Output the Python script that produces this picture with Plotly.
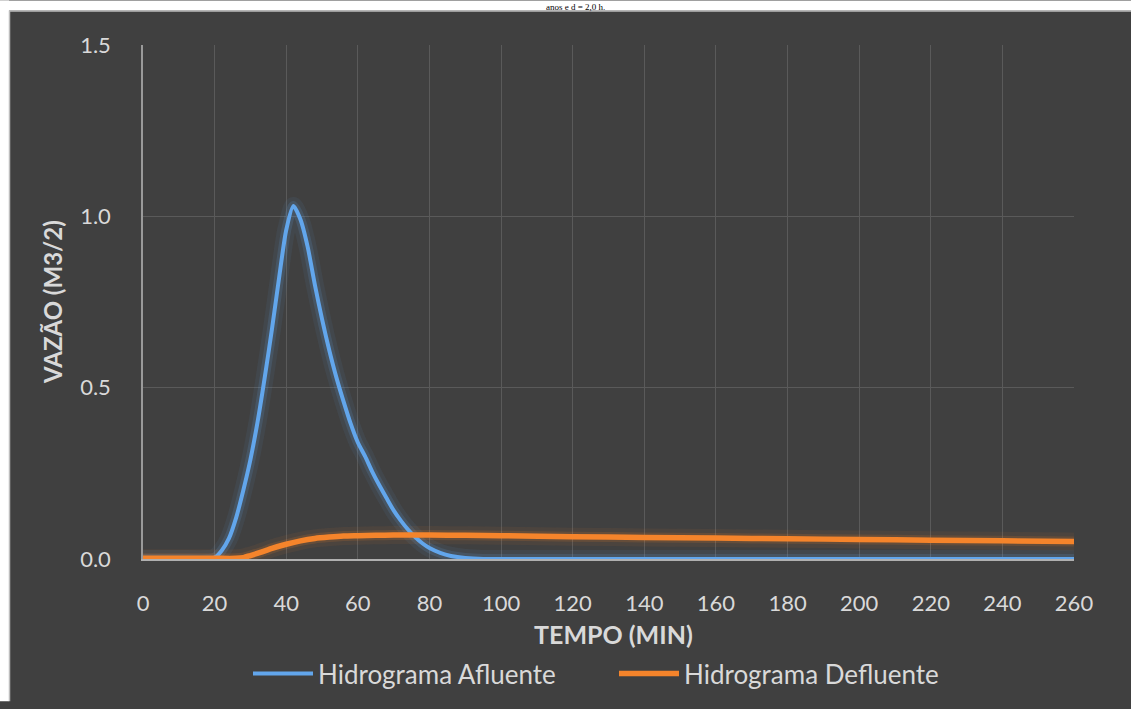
import plotly.graph_objects as go

# Hidrograma afluente (entrada) - tempo em minutos, vazão em m3/s
t_afluente = [0, 10, 18, 20, 22, 24, 26, 28, 30, 32, 34, 36, 38, 40, 42, 44,
              46, 48, 50, 52, 54, 56, 58, 60, 62, 64, 66, 68, 70, 72, 74, 76,
              78, 80, 83, 86, 90, 95, 100, 120, 140, 160, 180, 200, 220, 240,
              260]
q_afluente = [0, 0, 0, 0.004, 0.025, 0.06, 0.12, 0.20, 0.29, 0.40, 0.53, 0.67,
              0.82, 0.96, 1.03, 0.99, 0.91, 0.80, 0.70, 0.61, 0.53, 0.46,
              0.395, 0.34, 0.30, 0.255, 0.215, 0.178, 0.142, 0.112, 0.086,
              0.064, 0.046, 0.032, 0.018, 0.009, 0.003, 0, 0, 0, 0, 0, 0, 0, 0,
              0, 0]

# Hidrograma defluente (saída do reservatório)
t_defluente = [0, 10, 20, 26, 28, 30, 33, 36, 40, 44, 48, 52, 56, 60, 65, 70,
               75, 80, 90, 100, 120, 140, 160, 180, 200, 220, 240, 260]
q_defluente = [0.002, 0.002, 0.002, 0.002, 0.004, 0.010, 0.020, 0.031, 0.043,
               0.053, 0.060, 0.064, 0.067, 0.068, 0.069, 0.070, 0.070, 0.070,
               0.069, 0.068, 0.065, 0.063, 0.061, 0.059, 0.057, 0.055, 0.053,
               0.051]

x_ticks = list(range(0, 261, 20))
y_ticks = [0.0, 0.5, 1.0, 1.5]

series_names = ["Hidrograma Afluente", "Hidrograma Defluente"]
blue = "#62A6EC"
orange = "#F5842B"

W, H = 1131, 709
L, R, T, B = 143, 57, 45, 144
pw, ph = W - L - R, H - T - B


def px_x(p):
    return (p - L) / pw


def px_y(p):
    return (H - B - p) / ph


fig = go.Figure()

# soft glow under each line
for t, q, c in [(t_afluente, q_afluente, "98,166,236"),
                (t_defluente, q_defluente, "245,132,43")]:
    for w, a in [(18, 0.07), (10, 0.15)]:
        fig.add_trace(go.Scatter(
            x=t, y=q, mode="lines", showlegend=False, hoverinfo="skip",
            line=dict(color=f"rgba({c},{a})", width=w, shape="spline",
                      smoothing=0.7)))

fig.add_trace(go.Scatter(
    x=t_afluente, y=q_afluente, mode="lines", name=series_names[0],
    line=dict(color=blue, width=4, shape="spline", smoothing=0.7)))
fig.add_trace(go.Scatter(
    x=t_defluente, y=q_defluente, mode="lines", name=series_names[1],
    line=dict(color=orange, width=5.5, shape="spline", smoothing=0.7)))

font = "Lato, 'Open Sans', sans-serif"
tick_color = "#D9D9D9"

fig.update_layout(
    width=W, height=H,
    margin=dict(l=L, r=R, t=T, b=B),
    paper_bgcolor="#404040",
    plot_bgcolor="#404040",
    font=dict(family=font, color=tick_color, size=22),
    showlegend=True,
    legend=dict(orientation="h", x=px_x(248), xanchor="left",
                y=px_y(681), yanchor="middle",
                font=dict(size=26, color=tick_color),
                bgcolor="rgba(0,0,0,0)", itemwidth=60,
                entrywidth=291, entrywidthmode="pixels",
                traceorder="normal"),
    xaxis=dict(range=[0, 260], tickvals=x_ticks,
               showgrid=True, gridcolor="#5A5A5A", gridwidth=1,
               showline=True, linecolor="#B0B0B0", linewidth=1.5,
               zeroline=False, ticks="", ticklabelstandoff=24,
               tickfont=dict(size=22, color=tick_color)),
    yaxis=dict(range=[0, 1.5], tickvals=y_ticks, tickformat=".1f",
               showgrid=True, gridcolor="#5A5A5A", gridwidth=1,
               showline=True, linecolor="#9A9A9A", linewidth=1.5,
               zeroline=False, ticks="", ticklabelstandoff=26,
               tickfont=dict(size=22, color=tick_color)),
    shapes=[
        # white strip along the top and left edges
        dict(type="rect", xref="paper", yref="paper",
             x0=px_x(0), x1=px_x(W), y0=px_y(10), y1=px_y(0),
             fillcolor="white", line_width=0),
        dict(type="rect", xref="paper", yref="paper",
             x0=px_x(0), x1=px_x(9), y0=px_y(H), y1=px_y(0),
             fillcolor="white", line_width=0),
        dict(type="line", xref="paper", yref="paper",
             x0=px_x(9), x1=px_x(W), y0=px_y(10.5), y1=px_y(10.5),
             line=dict(color="#BDBDBD", width=1.5)),
        dict(type="line", xref="paper", yref="paper",
             x0=px_x(9.5), x1=px_x(9.5), y0=px_y(H), y1=px_y(10),
             line=dict(color="#BDBDBD", width=1.5)),
    ],
    annotations=[
        dict(text="anos e d = 2,0 h.", xref="paper", yref="paper",
             x=px_x(575), y=px_y(0), xanchor="center", yanchor="top",
             showarrow=False, borderpad=0,
             font=dict(family="'Liberation Serif', serif", size=9,
                       color="black")),
        dict(text="<b>TEMPO (MIN)</b>", xref="paper", yref="paper",
             x=px_x(613), y=px_y(641), xanchor="center", yanchor="middle",
             showarrow=False, font=dict(size=25, color=tick_color)),
        dict(text="<b>VAZÃO (M3/2)</b>", xref="paper", yref="paper",
             x=px_x(52), y=px_y(305), xanchor="center", yanchor="middle",
             textangle=-90, showarrow=False,
             font=dict(size=24, color=tick_color)),
    ],
)

fig.write_html("out.html")
